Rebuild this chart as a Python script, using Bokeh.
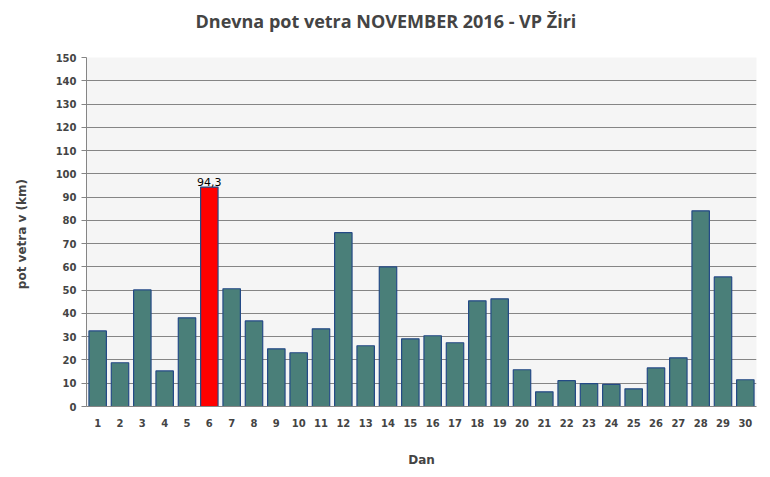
from bokeh.plotting import figure
from bokeh.models import ColumnDataSource, FixedTicker, Title
from bokeh.core.properties import value
from bokeh.embed import file_html
from bokeh.resources import INLINE

days = [str(d) for d in range(1, 31)]
values = [32.5, 18.8, 50.1, 15.3, 38.1, 94.3, 50.6, 36.8, 24.8, 23.1,
          33.4, 74.7, 26.1, 60.0, 29.1, 30.4, 27.4, 45.4, 46.3, 15.8,
          6.3, 11.1, 9.8, 9.5, 7.6, 16.6, 20.9, 84.1, 55.7, 11.5]
highlight_day = "6"
label_text = "94,3"
title_text = "Dnevna pot vetra NOVEMBER 2016 - VP Žiri"
y_ticks = list(range(0, 151, 10))

base_color = "#4a7f79"
hi_color = "#ff0000"
colors = [hi_color if d == highlight_day else base_color for d in days]

src = ColumnDataSource(dict(day=days, val=values, color=colors))

p = figure(x_range=days, y_range=(0, 150), frame_width=670, frame_height=349,
           output_backend="svg", toolbar_location=None, title=None,
           min_border_left=86, min_border_right=14, min_border_top=57, min_border_bottom=71)
p.background_fill_color = "#f5f5f5"
p.border_fill_color = "white"
p.outline_line_color = None

# spacer between title and plot frame
p.add_layout(Title(text=" ", text_font_size="1px", standoff=22), "above")
p.add_layout(Title(text=title_text, text_font="Open Sans", text_font_style="bold",
                   text_font_size="18px", align="left", offset=109, standoff=0), "above")

p.vbar(x="day", top="val", width=0.78, source=src, fill_color="color",
       line_color="#244a86", line_width=1.2)

hi_idx = days.index(highlight_day)
p.text(x=[days[hi_idx]], y=[values[hi_idx]], text=[label_text], text_align="center",
       text_baseline="bottom", y_offset=-1, text_font=value("DejaVu Sans"),
       text_font_size="11px", text_color="black")

p.xgrid.grid_line_color = None
p.ygrid.grid_line_color = "#858585"
p.ygrid.grid_line_width = 1
p.yaxis.ticker = FixedTicker(ticks=y_ticks)

for ax in (p.xaxis[0], p.yaxis[0]):
    ax.axis_line_color = "#858585"
    ax.major_label_text_font = "DejaVu Sans"
    ax.major_label_text_font_style = "bold"
    ax.major_label_text_font_size = "10px"
    ax.axis_label_text_font = "DejaVu Sans"
    ax.axis_label_text_font_style = "bold"
    ax.axis_label_text_font_size = "12px"
    ax.minor_tick_line_color = None

p.yaxis.major_tick_line_color = "#858585"
p.yaxis.major_tick_out = 5
p.yaxis.major_tick_in = 0
p.yaxis.major_label_standoff = 5
p.yaxis.axis_label = "pot vetra  v (km)"
p.yaxis.axis_label_standoff = 24

p.xaxis.major_tick_line_color = None
p.xaxis.major_label_standoff = 6
p.xaxis.axis_label = "Dan"
p.xaxis.axis_label_standoff = 23

open("out.html", "w").write(file_html(p, INLINE))
